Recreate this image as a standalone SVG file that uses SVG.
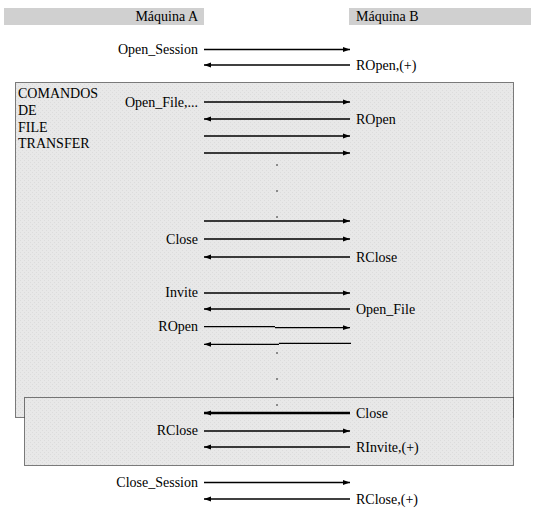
<svg xmlns="http://www.w3.org/2000/svg" width="535" height="511" viewBox="0 0 535 511" font-family="'Liberation Serif', 'DejaVu Serif', 'Times New Roman', serif">
<style>
text{font-family:'Liberation Serif','DejaVu Serif','Times New Roman',serif;font-size:14px;fill:#000}
.l{text-anchor:end}
.box{fill:url(#dots);stroke:#000;stroke-width:1;stroke-dasharray:1 1}
.hdr{fill:#d0d0d0}
.m{stroke:#000;stroke-width:1.3;fill:none;marker-end:url(#ah)}
.p{stroke:#000;stroke-width:1.3;fill:none}
.thick{stroke-width:2.4}
.dot{fill:#8a8a8a}
</style>
<defs>
<pattern id="dots" width="4" height="4" patternUnits="userSpaceOnUse">
<rect width="4" height="4" fill="#e8e8e8"/>
<rect x="0" y="0" width="1" height="1" fill="#dcdcdc"/>
<rect x="2" y="2" width="1" height="1" fill="#dcdcdc"/>
</pattern>
<marker id="ah" markerUnits="userSpaceOnUse" markerWidth="8" markerHeight="6" refX="7" refY="3" orient="auto">
<path d="M0,0.6 L7,3 L0,5.4 z" fill="#000"/>
</marker>
</defs>

<g id="header-a"><rect class="hdr" x="4" y="8" width="200" height="17"/><text class="l" x="198" y="21">Máquina A</text></g>
<g id="header-b"><rect class="hdr" x="349" y="8" width="182" height="17"/><text x="356" y="21">Máquina B</text></g>

<g id="box-file-transfer">
<rect class="box" x="15.5" y="82.5" width="498" height="335"/>
<text x="18" y="98">COMANDOS</text>
<text x="18" y="115">DE</text>
<text x="18" y="132">FILE</text>
<text x="18" y="148">TRANSFER</text>
</g>
<g id="box-close"><rect class="box" x="24.5" y="397.5" width="489" height="68"/></g>

<g id="ellipses">
<rect class="dot" x="276" y="164" width="2" height="2"/>
<rect class="dot" x="276" y="190" width="2" height="2"/>
<rect class="dot" x="276" y="216" width="2" height="2"/>
<rect class="dot" x="276" y="352" width="2" height="2"/>
<rect class="dot" x="276" y="378" width="2" height="2"/>
<rect class="dot" x="276" y="404" width="2" height="2"/>
</g>

<g id="connectors">
<line class="m" x1="204" y1="49.5" x2="350" y2="49.5"/>
<line class="m" x1="350" y1="65" x2="204" y2="65"/>
<line class="m" x1="204" y1="102" x2="350" y2="102"/>
<line class="m" x1="350" y1="119" x2="204" y2="119"/>
<line class="m" x1="204" y1="136" x2="350" y2="136"/>
<line class="m" x1="204" y1="153" x2="350" y2="153"/>
<line class="m" x1="204" y1="221" x2="350" y2="221"/>
<line class="m" x1="204" y1="239" x2="350" y2="239"/>
<line class="m" x1="350" y1="257" x2="204" y2="257"/>
<line class="m" x1="204" y1="293" x2="350" y2="293"/>
<line class="m" x1="350" y1="309" x2="204" y2="309"/>
<line class="p" x1="204" y1="326.7" x2="275" y2="326.7"/>
<line class="m" x1="275" y1="327.7" x2="350" y2="327.7"/>
<line class="p" x1="351" y1="343.3" x2="279" y2="343.3"/>
<line class="m" x1="279" y1="344.3" x2="204" y2="344.3"/>
<line class="m thick" x1="350" y1="413" x2="204" y2="413"/>
<line class="m" x1="204" y1="431" x2="350" y2="431"/>
<line class="m" x1="350" y1="447" x2="204" y2="447"/>
<line class="m" x1="204" y1="482.5" x2="350" y2="482.5"/>
<line class="m" x1="350" y1="499" x2="204" y2="499"/>
</g>

<g id="labels">
<text class="l" x="198" y="54">Open_Session</text>
<text x="356" y="70">ROpen,(+)</text>
<text class="l" x="198" y="107">Open_File,...</text>
<text x="356" y="124">ROpen</text>
<text class="l" x="198" y="244">Close</text>
<text x="356" y="262">RClose</text>
<text class="l" x="198" y="297">Invite</text>
<text x="356" y="314">Open_File</text>
<text class="l" x="198" y="331">ROpen</text>
<text x="356" y="418">Close</text>
<text class="l" x="198" y="435">RClose</text>
<text x="356" y="452">RInvite,(+)</text>
<text class="l" x="198" y="487">Close_Session</text>
<text x="356" y="504">RClose,(+)</text>
</g>
</svg>
